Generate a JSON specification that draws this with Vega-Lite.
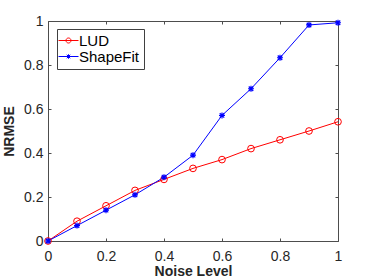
{
  "$schema": "https://vega.github.io/schema/vega-lite/v6.json",
  "width": 290,
  "height": 220,
  "autosize": "none",
  "padding": {"left": 48, "top": 21, "right": 36, "bottom": 39},
  "background": "white",
  "config": {
    "font": "Liberation Sans",
    "view": {"stroke": "#4d4d4d", "strokeWidth": 1},
    "axis": {
      "domain": false,
      "grid": false,
      "ticks": true,
      "tickSize": -3,
      "tickColor": "#4d4d4d",
      "labelFlush": false,
      "labelFont": "Liberation Sans",
      "labelFontSize": 14,
      "labelColor": "#262626",
      "titleFont": "Liberation Sans",
      "titleFontSize": 14,
      "titleFontWeight": "bold",
      "titleColor": "#262626"
    }
  },
  "data": {
    "values": [
      {"noise": 0, "nrmse": 0, "method": "LUD"},
      {"noise": 0.1, "nrmse": 0.09, "method": "LUD"},
      {"noise": 0.2, "nrmse": 0.16, "method": "LUD"},
      {"noise": 0.3, "nrmse": 0.23, "method": "LUD"},
      {"noise": 0.4, "nrmse": 0.28, "method": "LUD"},
      {"noise": 0.5, "nrmse": 0.33, "method": "LUD"},
      {"noise": 0.6, "nrmse": 0.37, "method": "LUD"},
      {"noise": 0.7, "nrmse": 0.42, "method": "LUD"},
      {"noise": 0.8, "nrmse": 0.46, "method": "LUD"},
      {"noise": 0.9, "nrmse": 0.50, "method": "LUD"},
      {"noise": 1.0, "nrmse": 0.542, "method": "LUD"},
      {"noise": 0, "nrmse": 0, "method": "ShapeFit"},
      {"noise": 0.1, "nrmse": 0.07, "method": "ShapeFit"},
      {"noise": 0.2, "nrmse": 0.14, "method": "ShapeFit"},
      {"noise": 0.3, "nrmse": 0.21, "method": "ShapeFit"},
      {"noise": 0.4, "nrmse": 0.29, "method": "ShapeFit"},
      {"noise": 0.5, "nrmse": 0.39, "method": "ShapeFit"},
      {"noise": 0.6, "nrmse": 0.571, "method": "ShapeFit"},
      {"noise": 0.7, "nrmse": 0.692, "method": "ShapeFit"},
      {"noise": 0.8, "nrmse": 0.833, "method": "ShapeFit"},
      {"noise": 0.9, "nrmse": 0.982, "method": "ShapeFit"},
      {"noise": 1.0, "nrmse": 0.992, "method": "ShapeFit"}
    ]
  },
  "layer": [
    {
      "mark": {"type": "line", "strokeWidth": 1},
      "encoding": {
        "x": {"field": "noise", "type": "quantitative", "scale": {"domain": [0, 1], "nice": false},
              "axis": {"orient": "bottom", "values": [0, 0.2, 0.4, 0.6, 0.8, 1], "format": "~g", "title": "Noise Level", "labelPadding": 11, "titlePadding": 1}},
        "y": {"field": "nrmse", "type": "quantitative", "scale": {"domain": [0, 1], "nice": false},
              "axis": {"orient": "left", "values": [0, 0.2, 0.4, 0.6, 0.8, 1], "format": "~g", "title": "NRMSE", "labelPadding": 8, "titlePadding": 7}},
        "color": {"field": "method", "type": "nominal", "scale": {"domain": ["LUD", "ShapeFit"], "range": ["#ff0000", "#0000ff"]},
          "legend": {
            "title": null,
            "orient": "none",
            "legendX": 9,
            "legendY": 8,
            "strokeColor": "#404040",
            "fillColor": "white",
            "padding": 4,
            "labelFont": "Liberation Sans",
            "labelFontSize": 15,
            "labelLimit": 200,
            "labelColor": "#000000",
            "labelOffset": 3,
            "rowPadding": 0,
            "symbolSize": 100,
            "symbolStrokeWidth": 1,
            "encode": {
              "symbols": {
                "update": {
                  "shape": {"signal": "datum.value === 'LUD' ? 'M-2,0H2M-0.5,0A0.5,0.5,0,1,0,0.5,0A0.5,0.5,0,1,0,-0.5,0' : 'M-2,0H2M0,-0.45V0.45M-0.45,0H0.45M-0.35,-0.35L0.35,0.35M-0.35,0.35L0.35,-0.35'"},
                  "fill": {"value": "transparent"},
                  "strokeWidth": {"value": 1}
                }
              }
            }
          }
        }
      }
    },
    {
      "transform": [{"filter": "datum.method === 'LUD'"}],
      "mark": {"type": "point", "shape": "circle", "size": 45, "filled": false, "strokeWidth": 1, "opacity": 1},
      "encoding": {
        "x": {"field": "noise", "type": "quantitative", "scale": {"domain": [0, 1], "nice": false},
              "axis": {"orient": "top", "values": [0, 0.2, 0.4, 0.6, 0.8, 1], "labels": false, "title": null}},
        "y": {"field": "nrmse", "type": "quantitative", "scale": {"domain": [0, 1], "nice": false},
              "axis": {"orient": "right", "values": [0, 0.2, 0.4, 0.6, 0.8, 1], "labels": false, "title": null}},
        "color": {"field": "method", "type": "nominal", "scale": {"domain": ["LUD", "ShapeFit"], "range": ["#ff0000", "#0000ff"]}, "legend": null}
      }
    },
    {
      "transform": [{"filter": "datum.method === 'ShapeFit'"}],
      "mark": {"type": "point", "shape": "M0,-1V1M-1,0H1M-0.75,-0.75L0.75,0.75M-0.75,0.75L0.75,-0.75", "size": 36, "filled": false, "strokeWidth": 1.2, "opacity": 1},
      "encoding": {
        "x": {"field": "noise", "type": "quantitative", "scale": {"domain": [0, 1], "nice": false}, "axis": null},
        "y": {"field": "nrmse", "type": "quantitative", "scale": {"domain": [0, 1], "nice": false}, "axis": null},
        "color": {"field": "method", "type": "nominal", "scale": {"domain": ["LUD", "ShapeFit"], "range": ["#ff0000", "#0000ff"]}, "legend": null}
      }
    }
  ],
  "resolve": {"axis": {"x": "independent", "y": "independent"}}
}
